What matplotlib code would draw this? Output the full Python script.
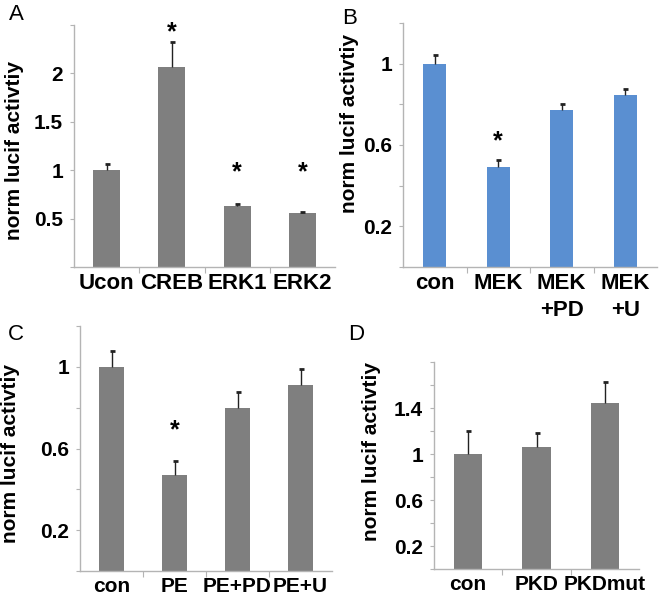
import matplotlib.pyplot as plt
import numpy as np

W, H = 664, 604
GRAY = '#7f7f7f'
BLUE = '#5a8fd1'
AXIS_COL = '#b4b4b4'
FONT = 'Liberation Sans'

# panel A
a_labels = ['Ucon', 'CREB', 'ERK1', 'ERK2']
a_vals = [1.0, 2.07, 0.63, 0.56]
a_err = [0.06, 0.25, 0.02, 0.01]
a_stars = [None, 2.42, 0.98, 0.98]

# panel B
b_labels = ['con', 'MEK', 'MEK\n+PD', 'MEK\n+U']
b_vals = [1.0, 0.49, 0.77, 0.845]
b_err = [0.045, 0.035, 0.03, 0.03]
b_stars = [None, 0.62, None, None]

# panel C
c_labels = ['con', 'PE', 'PE+PD', 'PE+U']
c_vals = [1.0, 0.47, 0.80, 0.91]
c_err = [0.08, 0.07, 0.075, 0.08]
c_stars = [None, 0.69, None, None]

# panel D
d_labels = ['con', 'PKD', 'PKDmut']
d_vals = [1.0, 1.06, 1.44]
d_err = [0.2, 0.12, 0.19]
d_stars = [None, None, None]

YLABEL = 'norm lucif activtiy'


def px_rect(left, top, right, bottom):
    return [left / W, 1 - bottom / H, (right - left) / W, (bottom - top) / H]


def draw_panel(fig, rect, labels, vals, err, stars, color, width,
               ylim, ticks, ticklabels, ylab_xy, xfs=16):
    ax = fig.add_axes(rect)
    x = np.arange(len(vals))
    ax.bar(x, vals, width=width, color=color, zorder=2)
    eb = ax.errorbar(x, vals, yerr=[np.zeros(len(err)), err], fmt='none',
                     ecolor='#222222', elinewidth=1.0, capsize=1.8, capthick=2.0,
                     zorder=3)
    # only the upper cap
    eb[1][0].set_visible(False)
    for xi, s in zip(x, stars):
        if s is not None:
            ax.text(xi, s, '*', ha='center', va='center', fontsize=18,
                    fontweight='bold', family=FONT)

    ax.set_xlim(-0.5, len(vals) - 0.5)
    ax.set_ylim(*ylim)
    for side in ['top', 'right']:
        ax.spines[side].set_visible(False)
    for side in ['left', 'bottom']:
        ax.spines[side].set_color(AXIS_COL)
        ax.spines[side].set_linewidth(1.0)

    # y ticks
    ax.set_yticks(ticks)
    ax.set_yticklabels(ticklabels, fontsize=15, fontweight='bold', family=FONT)
    ax.tick_params(axis='y', direction='out', length=3, color=AXIS_COL, pad=5)

    # x ticks at category boundaries, labels at centres
    ax.set_xticks(np.arange(0.5, len(vals) - 0.5, 1.0))
    ax.set_xticklabels([])
    ax.tick_params(axis='x', which='major', direction='out', length=4, color=AXIS_COL)
    ax.set_xticks(x, minor=True)
    ax.set_xticklabels(labels, minor=True, fontsize=xfs, fontweight='bold',
                       family=FONT, va='top', linespacing=1.4)
    ax.tick_params(axis='x', which='minor', length=0, pad=4)

    ax.set_ylabel(YLABEL, fontsize=15, fontweight='bold', family=FONT)
    ax.yaxis.set_label_coords(*ylab_xy)
    return ax


fig = plt.figure(figsize=(W / 100, H / 100), dpi=100)

draw_panel(fig, px_rect(74, 25, 335, 267), a_labels, a_vals, a_err, a_stars,
           GRAY, 0.41, (0, 2.5),
           [0, 0.5, 1, 1.5, 2, 2.5], ['', '0.5', '1', '1.5', '2', ''],
           (-0.19, 0.48))

tick02 = [0, 0.2, 0.4, 0.6, 0.8, 1.0, 1.2]
lab02 = ['', '0.2', '', '0.6', '', '1', '']

draw_panel(fig, px_rect(403, 23, 657, 267), b_labels, b_vals, b_err, b_stars,
           BLUE, 0.36, (0, 1.2), tick02, lab02, (-0.175, 0.59))

draw_panel(fig, px_rect(80, 326, 332, 571), c_labels, c_vals, c_err, c_stars,
           GRAY, 0.40, (0, 1.2), tick02, lab02, (-0.238, 0.48), xfs=15)

draw_panel(fig, px_rect(434, 362, 639, 569), d_labels, d_vals, d_err, d_stars,
           GRAY, 0.41, (0, 1.8),
           [0, 0.2, 0.4, 0.6, 0.8, 1.0, 1.2, 1.4, 1.6, 1.8],
           ['', '0.2', '', '0.6', '', '1', '', '1.4', '', ''],
           (-0.259, 0.57), xfs=15)

# panel letters
for letter, px, py in [('A', 16, 15), ('B', 350, 19), ('C', 16, 335), ('D', 356, 335)]:
    fig.text(px / W, 1 - py / H, letter, ha='center', va='center',
             fontsize=16, family=FONT)

plt.savefig('out.png', dpi=100)
